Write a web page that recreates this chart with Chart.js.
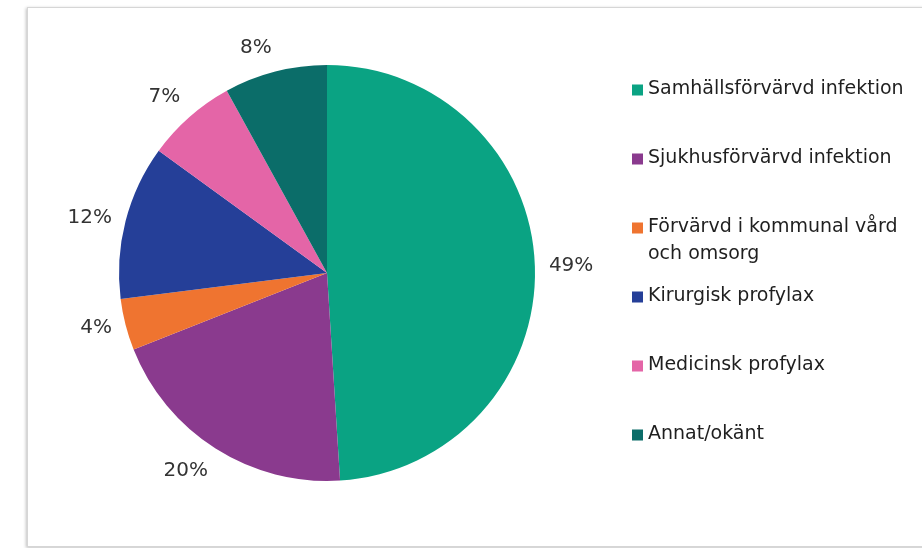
<!DOCTYPE html>
<html lang="sv">
<head>
<meta charset="utf-8">
<title>Indikation för antibiotikabehandling</title>
<script src="https://cdn.jsdelivr.net/npm/chart.js@4/dist/chart.umd.min.js"></script>
<style>
  html, body { margin: 0; padding: 0; background: #fff; }
  #wrap { position: relative; width: 922px; height: 548px; overflow: hidden; }
  #frame {
    position: absolute; left: 27px; top: 7px; width: 900px; height: 538px;
    border: 1px solid #d6d6d6;
    box-shadow: -1px 1px 3px rgba(0,0,0,0.25);
  }
  #pie { position: absolute; left: 0; top: 0; }
</style>
</head>
<body>
<div id="wrap">
  <div id="frame"></div>
  <canvas id="pie" width="922" height="548"></canvas>
</div>
<script>
// Andel av antibiotikabehandlingar per indikation (%)
const categories = [
  'Samhällsförvärvd infektion',
  'Sjukhusförvärvd infektion',
  ['Förvärvd i kommunal vård', 'och omsorg'],
  'Kirurgisk profylax',
  'Medicinsk profylax',
  'Annat/okänt'
];
const shares = [49, 20, 4, 12, 7, 8];
const sliceColors = ['#0aa383', '#8a3a8e', '#ef7430', '#253f98', '#e465a7', '#0b6d69'];

const FONT = '"DejaVu Sans", Verdana, sans-serif';

// percentage labels just outside each slice
const outsideLabels = {
  id: 'outsideLabels',
  afterDatasetsDraw(chart) {
    const { ctx } = chart;
    const meta = chart.getDatasetMeta(0);
    ctx.save();
    ctx.font = '20px ' + FONT;
    ctx.fillStyle = '#333333';
    meta.data.forEach((arc, i) => {
      const p = arc.getProps(['x', 'y', 'startAngle', 'endAngle', 'outerRadius'], true);
      const mid = (p.startAngle + p.endAngle) / 2;
      const r = p.outerRadius + 14;
      const cx = p.x + Math.cos(mid) * r;
      const cy = p.y + Math.sin(mid) * r;
      const c = Math.cos(mid), s = Math.sin(mid);
      ctx.textAlign = Math.abs(c) < 0.15 ? 'center' : (c > 0 ? 'left' : 'right');
      ctx.textBaseline = Math.abs(s) < 0.4 ? 'middle' : (s > 0 ? 'top' : 'bottom');
      ctx.fillText(shares[i] + '%', cx, cy);
    });
    ctx.restore();
  }
};

// legend drawn to the right of the pie, one entry per category
const sideLegend = {
  id: 'sideLegend',
  afterDraw(chart) {
    const { ctx } = chart;
    const x = 632, y0 = 89, step = 69, box = 11, lineH = 27;
    ctx.save();
    ctx.font = '19px ' + FONT;
    ctx.textBaseline = 'middle';
    ctx.textAlign = 'left';
    chart.data.labels.forEach((label, i) => {
      const y = y0 + i * step;
      ctx.fillStyle = chart.data.datasets[0].backgroundColor[i];
      ctx.fillRect(x, y - box / 2 + 1, box, box);
      ctx.fillStyle = '#1f1f1f';
      const lines = Array.isArray(label) ? label : [label];
      lines.forEach((t, j) => ctx.fillText(t, x + 16, y + j * lineH));
    });
    ctx.restore();
  }
};

new Chart(document.getElementById('pie'), {
  type: 'pie',
  data: {
    labels: categories,
    datasets: [{
      data: shares,
      backgroundColor: sliceColors,
      borderWidth: 0
    }]
  },
  options: {
    responsive: false,
    animation: false,
    layout: { padding: { left: 119, right: 387, top: 65, bottom: 67 } },
    plugins: {
      legend: { display: false },
      tooltip: { enabled: false }
    }
  },
  plugins: [outsideLabels, sideLegend]
});
</script>
</body>
</html>
